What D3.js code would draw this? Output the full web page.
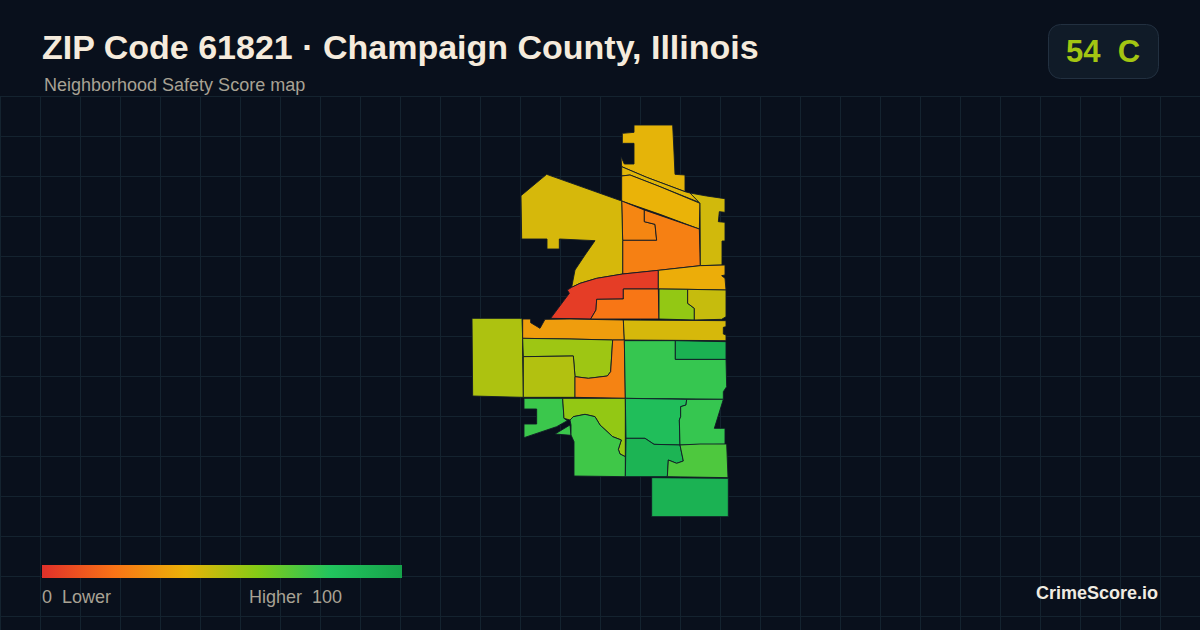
<!DOCTYPE html>
<html>
<head>
<meta charset="utf-8">
<script src="https://cdn.jsdelivr.net/npm/d3@7"></script>
<style>
  html, body { margin: 0; padding: 0; background: #09101c; }
  svg { display: block; }
  text { white-space: pre; font-family: "Liberation Sans", Arial, sans-serif; }
</style>
</head>
<body>
<div id="chart"></div>
<script>
// labels
const titleText = "ZIP Code 61821 · Champaign County, Illinois";
const subtitleText = "Neighborhood Safety Score map";
const badgeText = "54  C";
const legendLow = "0  Lower";
const legendHigh = "Higher  100";
const brandText = "CrimeScore.io";

const overallScore = 54;

// legend colour ramp
const rampStops = [0, 20, 40, 60, 80, 100];
const rampColors = ["#e0302a", "#f97316", "#eab308", "#84cc16", "#22c55e", "#16a34a"];

// score
const tractScores = [
  41, 42, 40, 26, 24, 45, 44, 4, 21, 38, 57, 47,
  52, 33, 44, 55, 51, 25, 76, 92, 75, 57, 74, 84, 76, 90, 71, 91
];

const tractRings = [
  [[[522,30],[638,30],[641,90],[645,178],[675,180],[675,230],[560,187],[485,155],[483,125],[493,147],[522,147],[522,85],[487,85],[487,55],[522,52]]],
  [[[485,155],[560,187],[675,230],[690,234],[720,263],[600,215],[510,180],[485,183]]],
  [[[485,183],[510,180],[600,215],[720,265],[718,342],[600,298],[485,258]]],
  [[[485,258],[553,285],[553,320],[585,328],[590,376],[488,376]]],
  [[[553,285],[718,342],[721,452],[595,466],[488,477],[488,376],[590,376],[585,328],[553,320]]],
  [[[720,265],[690,234],[740,243],[795,251],[795,292],[778,290],[775,320],[795,322],[795,378],[786,378],[786,450],[721,452]]],
  [[[183,242],[260,178],[485,258],[488,376],[488,477],[410,490],[360,505],[335,517],[345,465],[375,420],[405,377],[298,372],[298,402],[261,402],[261,372],[185,372]]],
  [[[595,466],[595,522],[490,522],[490,552],[410,553],[408,585],[392,612],[272,610],[328,535],[322,525],[335,517],[360,505],[410,490],[488,477]]],
  [[[490,522],[595,522],[597,612],[392,612],[408,585],[410,553],[490,552]]],
  [[[595,466],[721,452],[795,450],[795,480],[785,482],[795,490],[798,525],[683,523],[595,522]]],
  [[[597,522],[683,523],[683,565],[703,580],[703,615],[597,612]]],
  [[[683,523],[798,525],[798,605],[785,613],[703,615],[703,580],[683,565]]],
  [[[36,610],[186,610],[188,670],[188,725],[190,847],[38,843]]],
  [[[188,612],[212,612],[212,623],[240,640],[255,613],[330,612],[490,615],[493,675],[458,675],[330,672],[188,670]]],
  [[[490,615],[798,617],[798,635],[790,637],[790,657],[798,660],[798,677],[493,675]]],
  [[[188,670],[330,672],[458,675],[452,770],[442,783],[385,790],[345,785],[340,723],[190,725]]],
  [[[190,725],[340,723],[345,785],[345,847],[190,847]]],
  [[[458,675],[493,675],[496,850],[345,847],[345,785],[385,790],[442,783],[452,770]]],
  [[[493,677],[646,677],[646,733],[798,733],[800,815],[790,830],[790,853],[496,850]]],
  [[[646,677],[798,680],[798,733],[646,733]]],
  [[[192,850],[308,850],[312,910],[322,917],[290,935],[192,968],[192,927],[230,927],[230,882],[192,882]],
   [[285,957],[330,930],[333,961]]],
  [[[308,850],[496,850],[496,1025],[480,1017],[475,1003],[484,975],[458,965],[420,930],[405,905],[375,898],[340,905],[330,915],[312,910]]],
  [[[330,915],[340,905],[375,898],[405,905],[420,930],[458,965],[484,975],[475,1003],[480,1017],[496,1025],[496,1085],[342,1083],[342,980],[333,960],[333,930]]],
  [[[496,850],[680,853],[678,870],[662,875],[662,905],[658,915],[660,990],[582,988],[555,970],[498,970]]],
  [[[680,853],[790,853],[763,940],[795,940],[795,988],[660,990],[658,915],[662,905],[662,875],[678,870]]],
  [[[498,970],[555,970],[582,988],[660,990],[670,1038],[650,1045],[625,1035],[622,1085],[496,1085]]],
  [[[660,990],[720,987],[800,987],[804,1088],[622,1085],[625,1035],[650,1045],[670,1038]]],
  [[[575,1088],[805,1090],[805,1205],[575,1205]]]
];

const width = 1200;
const height = 630;
const gridStep = 40;
const gridTop = 96;

const svg = d3.select("#chart").append("svg")
  .attr("width", width)
  .attr("height", height);

svg.append("rect")
  .attr("width", width)
  .attr("height", height)
  .attr("fill", "#09101c");

// background grid
const gridX = d3.range(0, width + 1, gridStep);
const gridY = d3.range(gridTop, height + 1, gridStep);
const grid = svg.append("g").attr("stroke", "#14232f").attr("stroke-width", 1).attr("shape-rendering", "crispEdges");
grid.selectAll("line.v").data(gridX).enter().append("line")
  .attr("class", "v")
  .attr("x1", d => d).attr("x2", d => d)
  .attr("y1", gridTop).attr("y2", height);
grid.selectAll("line.h").data(gridY).enter().append("line")
  .attr("class", "h")
  .attr("x1", 0).attr("x2", width)
  .attr("y1", d => d).attr("y2", d => d);

// map
const xScale = d3.scaleLinear().domain([0, 840]).range([460, 740]);
const yScale = d3.scaleLinear().domain([0, 1545]).range([115, 630]);
const colorScale = d3.scaleLinear().domain(rampStops).range(rampColors);
const ringPath = d3.line()
  .x(d => xScale(d[0]))
  .y(d => yScale(d[1]))
  .curve(d3.curveLinearClosed);

svg.append("g").selectAll("path")
  .data(tractRings)
  .enter()
  .append("path")
  .attr("d", rings => rings.map(ringPath).join(""))
  .attr("fill", (d, i) => colorScale(tractScores[i]))
  .attr("stroke", "#111a26")
  .attr("stroke-width", 0.9)
  .attr("stroke-linejoin", "round");

// title block
svg.append("text")
  .attr("x", 42).attr("y", 58.5)
  .attr("font-size", 34).attr("font-weight", 700)
  .attr("fill", "#f5ebdc")
  .text(titleText);

svg.append("text")
  .attr("x", 44).attr("y", 91)
  .attr("font-size", 18)
  .attr("fill", "#a8a294")
  .text(subtitleText);

// score badge
svg.append("rect")
  .attr("x", 1048.5).attr("y", 24.5)
  .attr("width", 110).attr("height", 54)
  .attr("rx", 12)
  .attr("fill", "#101b28")
  .attr("stroke", "#223040");

svg.append("text")
  .attr("x", 1103).attr("y", 62)
  .attr("text-anchor", "middle")
  .attr("font-size", 31).attr("font-weight", 700)
  .attr("fill", colorScale(overallScore))
  .text(badgeText);

// legend
const legendScale = d3.scaleLinear().domain([0, 100]).range([42, 402]);
const gradient = svg.append("defs").append("linearGradient").attr("id", "ramp");
gradient.selectAll("stop").data(rampStops).enter().append("stop")
  .attr("offset", d => d + "%")
  .attr("stop-color", (d, i) => rampColors[i]);

svg.append("rect")
  .attr("x", legendScale(0)).attr("y", 565)
  .attr("width", legendScale(100) - legendScale(0)).attr("height", 13)
  .attr("fill", "url(#ramp)");

svg.append("text")
  .attr("x", 42).attr("y", 603)
  .attr("font-size", 18).attr("fill", "#a8a294")
  .text(legendLow);

svg.append("text")
  .attr("x", 342).attr("y", 603)
  .attr("text-anchor", "end")
  .attr("font-size", 18).attr("fill", "#a8a294")
  .text(legendHigh);

svg.append("text")
  .attr("x", 1158).attr("y", 599)
  .attr("text-anchor", "end")
  .attr("font-size", 18).attr("font-weight", 700)
  .attr("fill", "#f0ebe2")
  .text(brandText);
</script>
</body>
</html>
